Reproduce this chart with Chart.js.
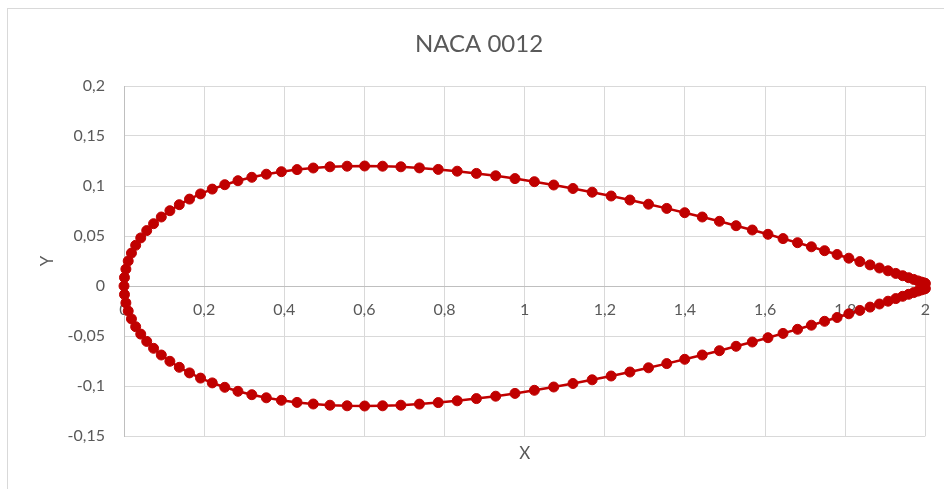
<!DOCTYPE html>
<html>
<head>
<meta charset="utf-8">
<title>NACA 0012</title>
<script src="https://cdn.jsdelivr.net/npm/chart.js@4.4.1/dist/chart.umd.min.js"></script>
<style>
  html, body { margin: 0; padding: 0; background: #ffffff; }
  #wrap { position: relative; width: 944px; height: 489px; overflow: hidden; }
  #frame { position: absolute; left: 7px; top: 8px; width: 960px; height: 500px;
           border: 1px solid #D9D9D9; box-sizing: border-box; }
  #c { position: absolute; left: 0; top: 0; }
</style>
</head>
<body>
<div id="wrap">
  <div id="frame"></div>
  <canvas id="c" width="944" height="489"></canvas>
</div>
<script>
// Profile coordinates, chord length 2, leading edge to trailing edge
const upperX = [0, 0.0012, 0.0047, 0.0105, 0.0186, 0.0291, 0.0418, 0.0567, 0.0738, 0.0931,
  0.1145, 0.1380, 0.1635, 0.1910, 0.2203, 0.2515, 0.2844, 0.3190, 0.3552, 0.3928,
  0.4319, 0.4724, 0.5140, 0.5568, 0.6006, 0.6454, 0.6910, 0.7373, 0.7842, 0.8316,
  0.8795, 0.9276, 0.9758, 1.0242, 1.0724, 1.1205, 1.1684, 1.2158, 1.2627, 1.3090,
  1.3546, 1.3994, 1.4432, 1.4860, 1.5276, 1.5681, 1.6072, 1.6448, 1.6810, 1.7156,
  1.7485, 1.7797, 1.8090, 1.8365, 1.8620, 1.8855, 1.9069, 1.9262, 1.9433, 1.9583,
  1.9709, 1.9814, 1.9895, 1.9953, 1.9988, 2.0000];
const upperY = [0, 0.0085, 0.0169, 0.0250, 0.0329, 0.0407, 0.0481, 0.0554, 0.0623, 0.0690,
  0.0753, 0.0813, 0.0869, 0.0921, 0.0969, 0.1013, 0.1053, 0.1087, 0.1118, 0.1143,
  0.1164, 0.1180, 0.1192, 0.1198, 0.1200, 0.1198, 0.1192, 0.1181, 0.1166, 0.1148,
  0.1126, 0.1102, 0.1074, 0.1043, 0.1010, 0.0975, 0.0938, 0.0900, 0.0860, 0.0818,
  0.0776, 0.0733, 0.0690, 0.0647, 0.0603, 0.0560, 0.0517, 0.0474, 0.0433, 0.0392,
  0.0353, 0.0315, 0.0278, 0.0244, 0.0211, 0.0180, 0.0152, 0.0126, 0.0103, 0.0083,
  0.0066, 0.0051, 0.0040, 0.0032, 0.0027, 0.0025];
const lowerX = [0.0012, 0.0047, 0.0105, 0.0186, 0.0291, 0.0418, 0.0567, 0.0738, 0.0931,
  0.1145, 0.1380, 0.1635, 0.1910, 0.2203, 0.2515, 0.2844, 0.3190, 0.3552, 0.3928,
  0.4319, 0.4724, 0.5140, 0.5568, 0.6006, 0.6454, 0.6910, 0.7373, 0.7842, 0.8316,
  0.8795, 0.9276, 0.9758, 1.0242, 1.0724, 1.1205, 1.1684, 1.2158, 1.2627, 1.3090,
  1.3546, 1.3994, 1.4432, 1.4860, 1.5276, 1.5681, 1.6072, 1.6448, 1.6810, 1.7156,
  1.7485, 1.7797, 1.8090, 1.8365, 1.8620, 1.8855, 1.9069, 1.9262, 1.9433, 1.9583,
  1.9709, 1.9814, 1.9895, 1.9953, 1.9988, 2.0000];
const lowerY = [-0.0085, -0.0169, -0.0250, -0.0329, -0.0407, -0.0481, -0.0554, -0.0623, -0.0690,
  -0.0753, -0.0813, -0.0869, -0.0921, -0.0969, -0.1013, -0.1053, -0.1087, -0.1118, -0.1143,
  -0.1164, -0.1180, -0.1192, -0.1198, -0.1200, -0.1198, -0.1192, -0.1181, -0.1166, -0.1148,
  -0.1126, -0.1102, -0.1074, -0.1043, -0.1010, -0.0975, -0.0938, -0.0900, -0.0860, -0.0818,
  -0.0776, -0.0733, -0.0690, -0.0647, -0.0603, -0.0560, -0.0517, -0.0474, -0.0433, -0.0392,
  -0.0353, -0.0315, -0.0278, -0.0244, -0.0211, -0.0180, -0.0152, -0.0126, -0.0103, -0.0083,
  -0.0066, -0.0051, -0.0040, -0.0032, -0.0027, -0.0025];

const xTickLabels = ['0', '0,2', '0,4', '0,6', '0,8', '1', '1,2', '1,4', '1,6', '1,8', '2'];
const yTickLabels = ['-0,15', '-0,1', '-0,05', '0', '0,05', '0,1', '0,15', '0,2'];

const chartTitle = 'NACA 0012';
const xTitle = 'X';
const yTitle = 'Y';

// Closed outline: upper surface trailing edge -> leading edge, then lower surface back
const outline = [];
for (let i = upperX.length - 1; i >= 0; i--) outline.push({ x: upperX[i], y: upperY[i] });
for (let i = 0; i < lowerX.length; i++) outline.push({ x: lowerX[i], y: lowerY[i] });

const TEXT = '#595959';
const RED = '#C00000';

const titles = {
  id: 'chartTitles',
  afterDraw(chart) {
    const ctx = chart.ctx;
    const a = chart.chartArea;
    ctx.save();
    ctx.fillStyle = TEXT;
    ctx.textAlign = 'center';
    ctx.textBaseline = 'middle';
    ctx.font = '24px Lato';
    ctx.fillText(chartTitle, 479, 44);
    ctx.font = '17px Lato';
    ctx.fillText(xTitle, (a.left + a.right) / 2, 454);
    ctx.translate(48, (a.top + a.bottom) / 2);
    ctx.rotate(-Math.PI / 2);
    ctx.fillText(yTitle, 0, 0);
    ctx.restore();
  }
};

Chart.defaults.font.family = 'Lato';

new Chart(document.getElementById('c'), {
  type: 'scatter',
  data: {
    datasets: [{
      data: outline,
      showLine: true,
      borderColor: RED,
      backgroundColor: RED,
      borderWidth: 2.5,
      pointRadius: 5,
      pointBorderWidth: 1,
      pointBorderColor: RED,
      pointBackgroundColor: RED,
      tension: 0,
      clip: false
    }]
  },
  options: {
    responsive: false,
    animation: false,
    layout: { padding: { left: 0, top: 86, right: 18, bottom: 53 } },
    plugins: { legend: { display: false }, tooltip: { enabled: false }, title: { display: false } },
    scales: {
      x: {
        type: 'linear',
        position: { y: 0 },
        min: 0, max: 2,
        ticks: {
          stepSize: 0.2, autoSkip: false, maxRotation: 0, padding: 14,
          color: TEXT, font: { size: 16 },
          callback: (v, i) => xTickLabels[i]
        },
        grid: { color: '#D9D9D9', lineWidth: 1, drawTicks: false },
        border: { color: '#BFBFBF', width: 1 }
      },
      y: {
        type: 'linear',
        min: -0.15, max: 0.2,
        ticks: {
          stepSize: 0.05, autoSkip: false, padding: 19,
          color: TEXT, font: { size: 16 },
          callback: (v, i) => yTickLabels[i]
        },
        grid: { color: '#D9D9D9', lineWidth: 1, drawTicks: false },
        border: { color: '#BFBFBF', width: 1 },
        afterFit(scale) { scale.width = 124; }
      }
    }
  },
  plugins: [titles]
});
</script>
</body>
</html>
